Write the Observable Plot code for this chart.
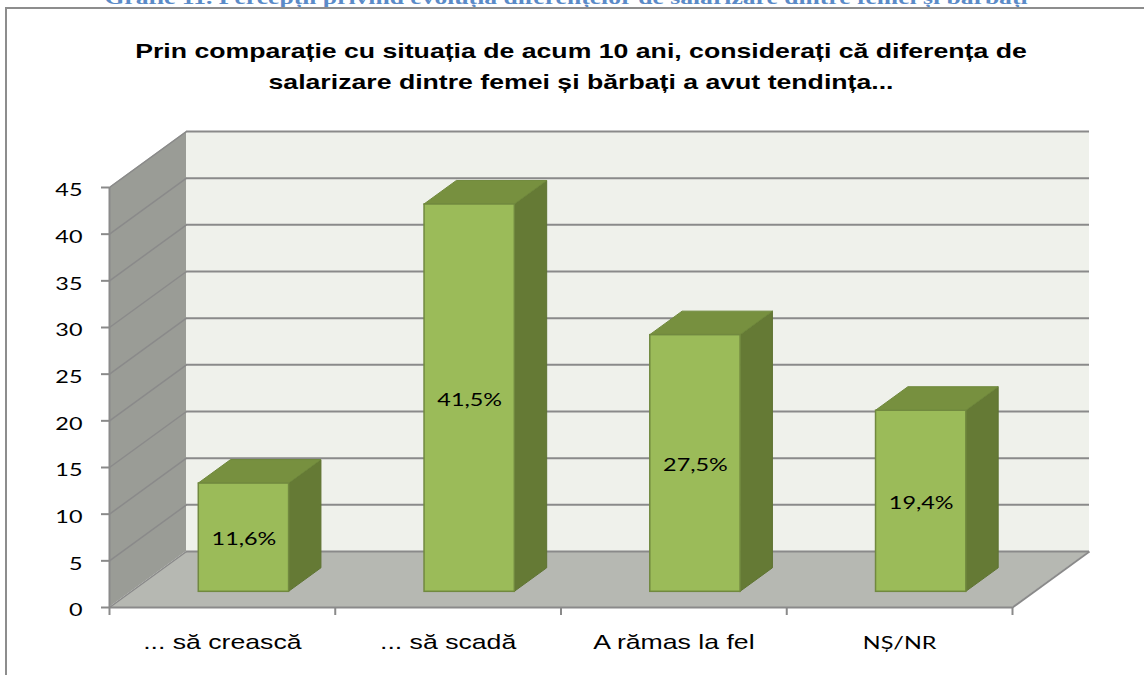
<!DOCTYPE html>
<html>
<head>
<meta charset="utf-8">
<script src="https://cdn.jsdelivr.net/npm/d3@7"></script>
<script src="https://cdn.jsdelivr.net/npm/@observablehq/plot@0.6"></script>
<style>
  html, body { margin: 0; padding: 0; background: #fff; }
  #page { position: relative; width: 1144px; height: 675px; overflow: hidden; background: #fff; }
  #caption { position: absolute; left: 0; top: -12px; width: 1132px; text-align: center;
    font: bold 19.7px/19.7px "Liberation Serif", "Times New Roman", serif; color: #5B8BC8;
    transform: scaleX(1.3); transform-origin: 566px 0; white-space: nowrap; }
  #title { position: absolute; left: 0; top: 35px; width: 1162px; text-align: center;
    font: bold 20.5px/31px "Liberation Sans", Arial, sans-serif; color: #000;
    transform: scaleX(1.3); transform-origin: 581px 0; }
  #chart { position: absolute; left: 0; top: 110px; }
  #frame { position: absolute; left: 5px; top: 7px; width: 1300px; height: 800px;
    border-top: 2px solid #8d8d8d; border-left: 2px solid #8d8d8d; pointer-events: none; }
</style>
</head>
<body>
<div id="page">
  <div id="caption">Grafic 11. Percepții privind evoluția diferențelor de salarizare dintre femei și bărbați</div>
  <div id="title">Prin comparație cu situația de acum 10 ani, considerați că diferența de<br>salarizare dintre femei și bărbați a avut tendința...</div>
  <div id="chart"></div>
  <div id="frame"></div>
</div>
<script>
// ---- data ----
const categories = ["... să crească", "... să scadă", "A rămas la fel", "NȘ/NR"];
const values = [11.6, 41.5, 27.5, 19.4];
const valueLabels = ["11,6%", "41,5%", "27,5%", "19,4%"];
const yTicks = [0, 5, 10, 15, 20, 25, 30, 35, 40, 45];
const yMax = 45;

// ---- layout ----
const W = 1144, H = 565, ML = 109, MR = 132, MT = 21, MB = 68;
const DEPTH_Y = 6;                       // depth offset in value units
const pxPerX = (W - ML - MR) / categories.length;
const pxPerY = (H - MT - MB) / (yMax + DEPTH_Y);
const DEPTH_X = 77 / pxPerX;             // depth offset in category units
const F0 = 0.28, F1 = 0.70, HALF = 0.2;  // bar depth range & half width
const nCat = categories.length;

const bars = categories.map((c, i) => ({c, i, v: values[i], label: valueLabels[i]}));
const fx = f => f * DEPTH_X, fy = f => f * DEPTH_Y;

const frontFaces = bars.map(b => ({
  c: b.c, x1: b.i + 0.5 - HALF + fx(F0), x2: b.i + 0.5 + HALF + fx(F0), y1: fy(F0), y2: b.v + fy(F0)
}));
const topFaces = bars.flatMap(b => [
  {c: b.c, y: b.v + fy(F0), x1: b.i + 0.5 - HALF + fx(F0), x2: b.i + 0.5 + HALF + fx(F0)},
  {c: b.c, y: b.v + fy(F1), x1: b.i + 0.5 - HALF + fx(F1), x2: b.i + 0.5 + HALF + fx(F1)}
]);
const sideFaces = bars.flatMap(b => [
  {c: b.c, x: b.i + 0.5 + HALF + fx(F0), y1: fy(F0), y2: b.v + fy(F0)},
  {c: b.c, x: b.i + 0.5 + HALF + fx(F1), y1: fy(F1), y2: b.v + fy(F1)}
]);
const leftWall = [{x: 0, y1: 0, y2: yMax}, {x: DEPTH_X, y1: DEPTH_Y, y2: yMax + DEPTH_Y}];
const floor = [{y: 0, x1: 0, x2: nCat}, {y: DEPTH_Y, x1: DEPTH_X, x2: nCat + DEPTH_X}];
const bounds = d3.range(nCat + 1);
const grey = "#8a8a8a";

const plot = Plot.plot({
  width: W, height: H,
  marginLeft: ML, marginRight: MR, marginTop: MT, marginBottom: MB,
  x: {type: "linear", domain: [0, nCat], axis: null},
  y: {type: "linear", domain: [0, yMax + DEPTH_Y], axis: null},
  style: "background: transparent; overflow: visible;",
  marks: [
    // walls & floor
    Plot.rect([0], {x1: DEPTH_X, x2: nCat + DEPTH_X, y1: DEPTH_Y, y2: yMax + DEPTH_Y, fill: "#EFF1EB"}),
    Plot.areaY(leftWall, {x: "x", y1: "y1", y2: "y2", fill: "#9A9C96"}),
    Plot.areaX(floor, {y: "y", x1: "x1", x2: "x2", fill: "#B6B8B2"}),
    // gridlines
    Plot.ruleY(yTicks, {y: d => d + DEPTH_Y, x1: DEPTH_X, x2: nCat + DEPTH_X, stroke: grey, strokeWidth: 2}),
    Plot.link(yTicks, {x1: 0, y1: d => d, x2: DEPTH_X, y2: d => d + DEPTH_Y, stroke: grey, strokeWidth: 1.5}),
    Plot.link([0], {x1: nCat, y1: 0, x2: nCat + DEPTH_X, y2: DEPTH_Y, stroke: grey, strokeWidth: 2}),
    // axes
    Plot.ruleX([0], {y1: 0, y2: yMax, stroke: grey, strokeWidth: 2}),
    Plot.ruleY([0], {x1: 0, x2: nCat, stroke: grey, strokeWidth: 2}),
    Plot.ruleY(yTicks, {y: d => d, x1: -8 / pxPerX, x2: 0, stroke: grey, strokeWidth: 2}),
    Plot.ruleX(bounds, {x: d => d, y1: 0, y2: -8 / pxPerY, stroke: grey, strokeWidth: 2}),
    Plot.text(yTicks, {x: 0, y: d => d, text: d => String(d), textAnchor: "end", dx: -27, dy: 3,
      fontFamily: "Lato", fontSize: 18, fill: "#000"}),
    Plot.text(bars.filter(b => b.i < 3), {x: b => b.i + 0.5, y: 0, text: "c", dy: 35,
      fontFamily: "Liberation Sans, Arial", fontSize: 20.5, fill: "#000"}),
    Plot.text(bars.filter(b => b.i === 3), {x: b => b.i + 0.5, y: 0, text: "c", dy: 36,
      fontFamily: "Lato", fontSize: 18, fill: "#000"}),
    // bars
    Plot.areaY(sideFaces, {x: "x", y1: "y1", y2: "y2", z: "c", fill: "#657A35", stroke: "#5E7332", strokeWidth: 1}),
    Plot.areaX(topFaces, {y: "y", x1: "x1", x2: "x2", z: "c", fill: "#77903F", stroke: "#6F883B", strokeWidth: 1}),
    Plot.rect(frontFaces, {x1: "x1", x2: "x2", y1: "y1", y2: "y2", fill: "#9BBB59", stroke: "#71893F", strokeWidth: 1.5}),
    Plot.text(bars, {x: b => b.i + 0.5 + fx(F0), y: b => fy(F0) + b.v / 2, text: "label", dy: 2,
      fontFamily: "Lato", fontSize: 18, fill: "#000"})
  ]
});

// stretch text horizontally like the reference
plot.querySelectorAll("text").forEach(t => {
  const x = parseFloat(t.getAttribute("x")) || 0;
  const tr = t.getAttribute("transform") || "";
  t.setAttribute("transform", `${tr} translate(${x},0) scale(1.3,1) translate(${-x},0)`);
});
document.getElementById("chart").appendChild(plot);
</script>
</body>
</html>
